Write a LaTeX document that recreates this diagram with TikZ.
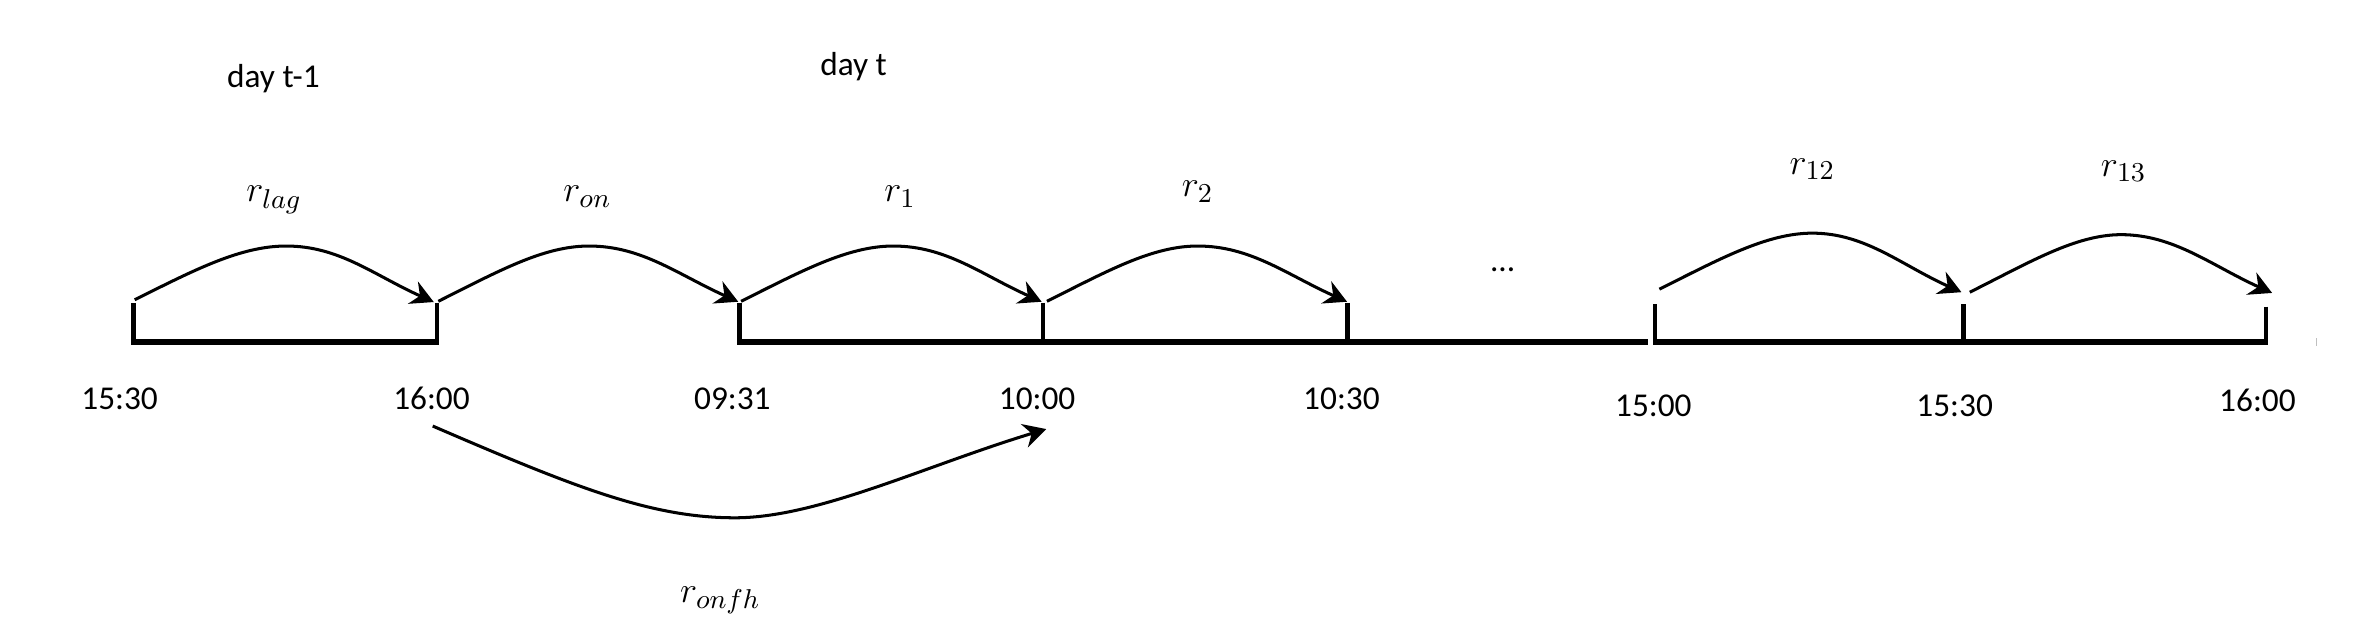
\documentclass[tikz,border=0pt]{standalone}
\usepackage{fontspec}
\setmainfont{Carlito}
\usetikzlibrary{arrows.meta}
\begin{document}
\begin{tikzpicture}[x=0.5pt,y=-0.5pt,
  arc/.style={line width=1pt,-{Stealth[length=7.5pt,width=8pt,inset=2.5pt]}},
  axisline/.style={line width=2.1pt},
  tickline/.style={line width=1.5pt},
  timelbl/.style={font=\fontsize{11}{13}\selectfont, anchor=base, inner sep=0pt},
  daylbl/.style={font=\fontsize{11}{13}\selectfont, anchor=base, inner sep=0pt},
  retlbl/.style={font=\fontsize{12.5}{15}\selectfont, anchor=base, inner sep=0pt}]
\useasboundingbox (0,0) rectangle (1568,410.8);

% tick positions
\coordinate (k1) at (88,227);   \coordinate (k1t) at (88,200);
\coordinate (k2) at (288.5,227);\coordinate (k2t) at (288.5,200);
\coordinate (k3) at (488.5,227);\coordinate (k3t) at (488.5,200);
\coordinate (k4) at (689,227);  \coordinate (k4t) at (689,200);
\coordinate (k5) at (890,227);  \coordinate (k5t) at (890,200);
\coordinate (k6) at (1093,227); \coordinate (k6t) at (1093,201);
\coordinate (k7) at (1297,227); \coordinate (k7t) at (1297,201);
\coordinate (k8) at (1496.5,227);\coordinate (k8t) at (1496.5,202.6);
\foreach \i in {1,...,8} {\draw[tickline] (k\i t) -- (k\i);}

% axis segments
\coordinate (x1a) at (86.5,226);  \coordinate (x1b) at (290,226);
\coordinate (x2a) at (487,226);   \coordinate (x2b) at (1088.5,226);
\coordinate (x3a) at (1092,226);  \coordinate (x3b) at (1498,226);
\draw[axisline] (x1a) -- (x1b);
\draw[axisline] (x2a) -- (x2b);
\draw[axisline] (x3a) -- (x3b);
\draw[gray!50, line width=0.4pt] (1530,223.5) -- (1530,228.5);

% time labels
\node[timelbl] (t1) at (79,270.4)   {15:30};
\node[timelbl] (t2) at (285,270.4)  {16:00};
\node[timelbl] (t3) at (483.7,270.4){09:31};
\node[timelbl] (t4) at (685,270.4)  {10:00};
\node[timelbl] (t5) at (886,270.4)  {10:30};
\node[timelbl] (t6) at (1092,275.2) {15:00};
\node[timelbl] (t7) at (1291,275.2) {15:30};
\node[timelbl] (t8) at (1491,271.9) {16:00};

% day labels
\node[daylbl] (d1) at (180.6,57.7) {day t-1};
\node[daylbl] (d2) at (563.8,50.2) {day t};
\node[daylbl] (dots) at (992.5,179.5) {...};

% arcs
\coordinate (a1s) at (89,198);    \coordinate (a1p) at (189,162.5);  \coordinate (a1e) at (286.5,199.5);
\coordinate (a2s) at (289.5,199); \coordinate (a2p) at (389,162.5);  \coordinate (a2e) at (487.6,199.3);
\coordinate (a3s) at (489.5,199); \coordinate (a3p) at (590,162.5);  \coordinate (a3e) at (688,199.3);
\coordinate (a4s) at (691.5,199); \coordinate (a4p) at (791,162.5);  \coordinate (a4e) at (889.7,199.3);
\coordinate (a5s) at (1096,191);  \coordinate (a5p) at (1197,154);   \coordinate (a5e) at (1295.5,193);
\coordinate (a6s) at (1301,193);  \coordinate (a6p) at (1401,155);   \coordinate (a6e) at (1500.7,193.5);
\foreach \i in {1,...,6} {
  \draw[arc] (a\i s) .. controls +(40,-20) and +(-30,0) .. (a\i p)
                   .. controls +(35,0) and +(-40,-18) .. (a\i e);
}

% overnight-to-first-half-hour arc
\coordinate (bs) at (285.8,281.4); \coordinate (bp) at (485.5,342); \coordinate (be) at (691,283.4);
\draw[arc] (bs) .. controls +(94.2,40.6) and +(-55.5,0) .. (bp)
               .. controls +(54.5,0) and +(-81,24.6) .. (be);

% return labels
\node[retlbl] (rlag) at (181,133.2)   {$r_{lag}$};
\node[retlbl] (ron)  at (388,133.2)   {$r_{on}$};
\node[retlbl] (r1)   at (594.5,133.2) {$r_1$};
\node[retlbl] (r2)   at (791,130)     {$r_2$};
\node[retlbl] (r12)  at (1197,115)    {$r_{12}$};
\node[retlbl] (r13)  at (1402.7,116.3){$r_{13}$};
\node[retlbl] (ronfh) at (475.8,398)  {$r_{onfh}$};
\end{tikzpicture}
\end{document}
